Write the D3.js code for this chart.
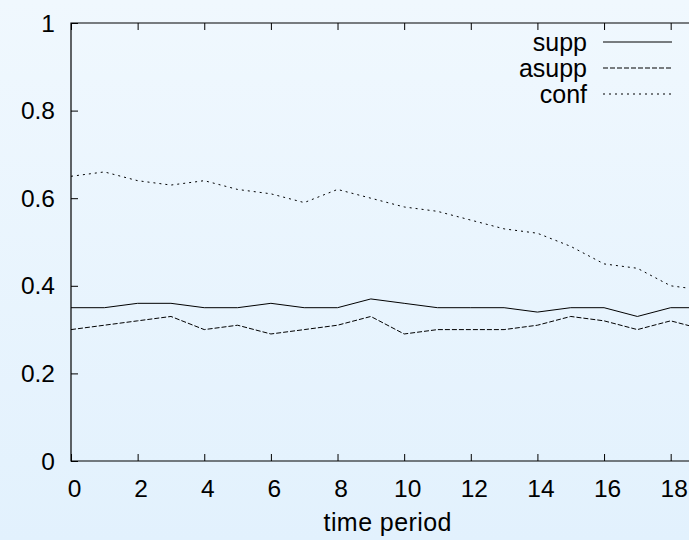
<!DOCTYPE html>
<html>
<head>
<meta charset="utf-8">
<script src="https://cdn.jsdelivr.net/npm/d3@7"></script>
<style>
  html, body { margin: 0; padding: 0; overflow: hidden; }
  svg { display: block; }
  text { font-family: "Liberation Sans", Arial, Helvetica, sans-serif; fill: #000; }
</style>
</head>
<body>
<svg id="chart" width="689" height="540"></svg>
<script>
const periods = [0,1,2,3,4,5,6,7,8,9,10,11,12,13,14,15,16,17,18,19];
const supp  = [0.35,0.35,0.36,0.36,0.35,0.35,0.36,0.35,0.35,0.37,0.36,0.35,0.35,0.35,0.34,0.35,0.35,0.33,0.35,0.35];
const asupp = [0.30,0.31,0.32,0.33,0.30,0.31,0.29,0.30,0.31,0.33,0.29,0.30,0.30,0.30,0.31,0.33,0.32,0.30,0.32,0.30];
const conf  = [0.65,0.66,0.64,0.63,0.64,0.62,0.61,0.59,0.62,0.60,0.58,0.57,0.55,0.53,0.52,0.49,0.45,0.44,0.40,0.39];
const xTicks = [0,2,4,6,8,10,12,14,16,18];
const yTicks = [0,0.2,0.4,0.6,0.8,1];
const seriesNames = ["supp","asupp","conf"];
const xLabel = "time period";

(function(){
const svg = d3.select("#chart");
const W = 689, H = 540;
const mL = 71, mR = 704, mT = 23, mB = 461;

const defs = svg.append("defs");
const grad = defs.append("linearGradient").attr("id","bg").attr("x1",0).attr("y1",0).attr("x2",0).attr("y2",1);
grad.append("stop").attr("offset","0%").attr("stop-color","#f0f8fe");
grad.append("stop").attr("offset","100%").attr("stop-color","#e2f1fd");
svg.append("rect").attr("width",W).attr("height",H).attr("fill","url(#bg)");

const x = d3.scaleLinear().domain([0,19]).range([mL,mR]);
const y = d3.scaleLinear().domain([0,1]).range([mB,mT]);

const dashes = {supp: null, asupp: "5,2", conf: "2,4"};
const data = {supp, asupp, conf};

const line = d3.line().x((d,i)=>x(periods[i])).y(d=>y(d));

const plot = svg.append("g");
seriesNames.forEach(n => {
  plot.append("path").datum(data[n])
    .attr("d", line)
    .attr("fill","none")
    .attr("stroke","#000")
    .attr("stroke-width",1)
    .attr("stroke-dasharray", dashes[n]);
});

const fmtY = d => d === 0 ? "0" : d === 1 ? "1" : d3.format(".1f")(d);
const gx = svg.append("g").attr("transform",`translate(0,${mB})`)
  .call(d3.axisBottom(x).tickValues(xTicks).tickSizeInner(-7).tickSizeOuter(0).tickFormat(d=>d));
gx.select(".domain").remove();
gx.selectAll("text").remove();
const gxt = svg.append("g").attr("transform",`translate(0,${mT})`)
  .call(d3.axisTop(x).tickValues(xTicks).tickSizeInner(-7).tickSizeOuter(0).tickFormat(""));
gxt.select(".domain").remove();
const gy = svg.append("g").attr("transform",`translate(${mL},0)`)
  .call(d3.axisLeft(y).tickValues(yTicks).tickSizeInner(-7).tickSizeOuter(0).tickFormat(fmtY));
gy.select(".domain").remove();
gy.selectAll("text").remove();
svg.selectAll(".tick line").attr("stroke","#000").attr("stroke-width",1);

svg.append("path")
  .attr("d", `M${mR},${mT}H${mL}V${mB}H${mR}`)
  .attr("fill","none").attr("stroke","#000").attr("stroke-width",1.2);

svg.append("g").selectAll("text").data(xTicks).join("text")
  .attr("x", d => x(d) + 3.5).attr("y", 497)
  .attr("text-anchor","middle").attr("font-size",24.5).text(d=>d);
svg.append("g").selectAll("text").data(yTicks).join("text")
  .attr("x", 55).attr("y", d => y(d) + 8.5)
  .attr("text-anchor","end").attr("font-size",24.5).text(fmtY);

svg.append("text").attr("x",(mL+mR)/2).attr("y",531)
  .attr("text-anchor","middle").attr("font-size",25)
  .attr("textLength",128).attr("lengthAdjust","spacing").text(xLabel);

const lg = svg.append("g");
seriesNames.forEach((n,i) => {
  const ly = 42 + i*26;
  lg.append("text").attr("x",587).attr("y",ly+9).attr("text-anchor","end").attr("font-size",25).text(n);
  lg.append("line").attr("x1",603).attr("x2",672).attr("y1",ly).attr("y2",ly)
    .attr("stroke","#000").attr("stroke-width",1).attr("stroke-dasharray",dashes[n]);
});
})();
</script>
</body>
</html>
